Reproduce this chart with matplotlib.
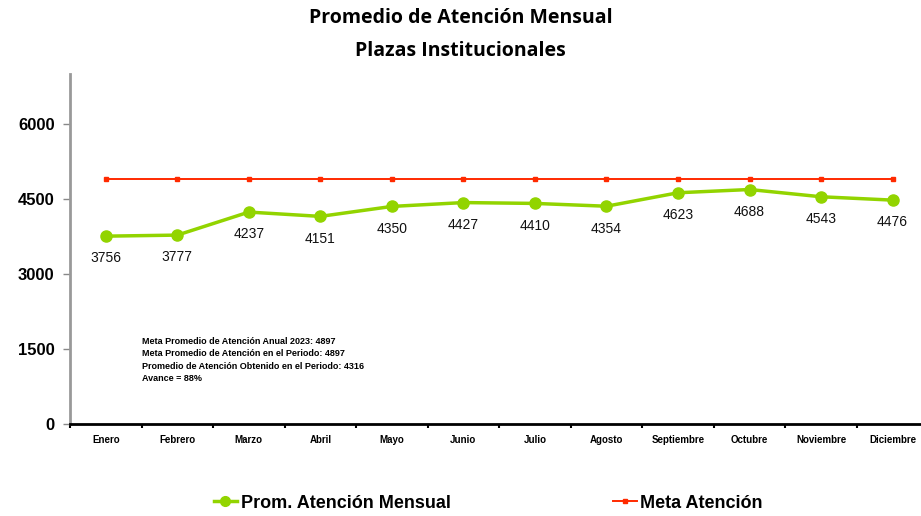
import matplotlib.pyplot as plt
from matplotlib.lines import Line2D

plt.rcParams['font.family'] = ['Liberation Sans', 'DejaVu Sans']

meses = ['Enero', 'Febrero', 'Marzo', 'Abril', 'Mayo', 'Junio', 'Julio',
         'Agosto', 'Septiembre', 'Octubre', 'Noviembre', 'Diciembre']
prom_mensual = [3756, 3777, 4237, 4151, 4350, 4427, 4410, 4354, 4623, 4688, 4543, 4476]
meta = [4897] * 12
y_ticks = [0, 1500, 3000, 4500, 6000]
nota = ['Meta Promedio de Atención Anual 2023: 4897',
        'Meta Promedio de Atención en el Periodo: 4897',
        'Promedio de Atención Obtenido en el Periodo: 4316',
        'Avance = 88%']

green = '#92d400'
red = '#ff2a00'

fig = plt.figure(figsize=(9.21, 5.16), dpi=100)
ax = fig.add_axes([0.076, 0.178, 0.932, 0.679])

x = list(range(len(meses)))
ax.plot(x, meta, color=red, lw=1.4, marker='s', ms=2.5, zorder=2)
ax.plot(x, prom_mensual, color=green, lw=2.5, marker='o', ms=8, zorder=3)

# etiquetas de datos debajo de cada punto
for xi, v in zip(x, prom_mensual):
    ax.annotate(str(v), (xi, v), xytext=(0, -11), textcoords='offset points',
                ha='center', va='top', fontsize=10, color='#111111')

ax.set_xlim(-0.5, 11.5)
ax.set_ylim(0, 7000)
ax.set_yticks(y_ticks)
ax.set_yticklabels([str(t) for t in y_ticks], fontsize=12, fontweight='bold')
ax.set_xticks([i + 0.5 for i in range(-1, 12)])
ax.set_xticklabels([''] * 13)
ax.set_xticks(x, minor=True)
ax.set_xticklabels(meses, minor=True, fontsize=7, fontweight='bold')
ax.tick_params(axis='x', which='minor', length=0, pad=8)
ax.tick_params(axis='x', which='major', direction='out', length=3, width=1.5)
ax.tick_params(axis='y', direction='out', length=5, width=1, color='#888888', pad=6)

for s in ['top', 'right']:
    ax.spines[s].set_visible(False)
ax.spines['left'].set_color('#999999')
ax.spines['left'].set_linewidth(2)
ax.spines['bottom'].set_color('black')
ax.spines['bottom'].set_linewidth(2)

ax.text(0.5, 1750, '\n'.join(nota), fontsize=6.5, fontweight='bold',
        va='top', ha='left', linespacing=1.5)

fig.text(0.5, 0.965, 'Promedio de Atención Mensual', ha='center', va='center',
         fontsize=14, fontweight='bold', family=['Open Sans', 'DejaVu Sans'])
fig.text(0.5, 0.902, 'Plazas Institucionales', ha='center', va='center',
         fontsize=14, fontweight='bold', family=['Open Sans', 'DejaVu Sans'])

handles = [Line2D([], [], color=green, lw=2.5, marker='o', ms=7),
           Line2D([], [], color=red, lw=1.4, marker='s', ms=2.5)]
fig.legend(handles, ['Prom. Atención Mensual', 'Meta Atención'], loc='center',
           bbox_to_anchor=(0.53, 0.025), ncol=2, frameon=False,
           handlelength=1.3, handletextpad=0.2, columnspacing=9,
           prop={'weight': 'bold', 'size': 13})

fig.savefig('out.png', dpi=100)
